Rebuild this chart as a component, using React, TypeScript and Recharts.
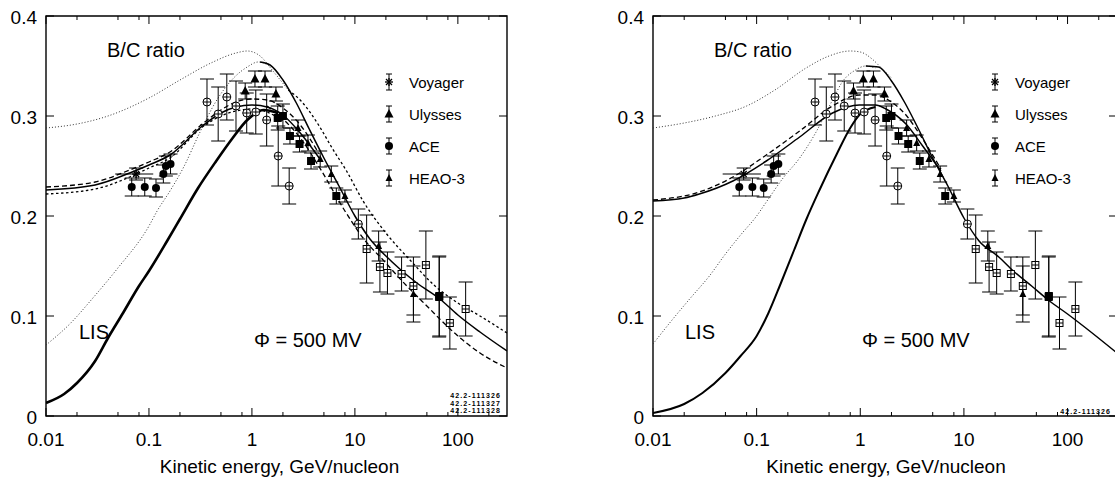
import React from "react";
import { ComposedChart, Line, Scatter, XAxis, YAxis, ErrorBar, ReferenceArea } from "recharts";

// B/C ratio vs kinetic energy, two panels, log x axis

const FONT = '"Liberation Sans", Arial, Helvetica, sans-serif';
const H = 479;
const TOP = 16;
const BOTTOM = 416;
const AXIS_W = 40;
const AXIS_H = 40;

const xMajor = [0.01, 0.1, 1, 10, 100];
const xMinor = [0.02, 0.05, 0.08, 0.2, 0.5, 0.8, 2, 5, 8, 20, 50, 80, 200];
const xTicks = [...xMajor, ...xMinor].sort((a, b) => a - b);
const yTicks = [0, 0.1, 0.2, 0.3, 0.4];
const xTitle = "Kinetic energy, GeV/nucleon";

// measurements: [E (GeV/n), B/C, error]
const voyager = [[0.075, 0.242, 0.006]];
const voyagerXErr = [[0.028, 0.035]];
const ulysses = [[0.86, 0.325, 0.008], [1.07, 0.337, 0.008], [1.34, 0.337, 0.008], [1.71, 0.322, 0.007]];
const ace = [[0.068, 0.229, 0.009], [0.091, 0.229, 0.009], [0.117, 0.228, 0.009], [0.138, 0.242, 0.009], [0.146, 0.25, 0.01], [0.162, 0.252, 0.01]];
const heao = [[2.8, 0.288, 0.008], [3.5, 0.273, 0.008], [4.6, 0.257, 0.008], [5.9, 0.242, 0.008], [8, 0.22, 0.006], [17, 0.17, 0.015], [37, 0.122, 0.028]];
const filledSq = [[1.78, 0.298, 0.012], [2.0, 0.3, 0.012], [2.34, 0.28, 0.008], [2.9, 0.272, 0.008], [3.75, 0.255, 0.008], [6.6, 0.22, 0.008], [66, 0.12, 0.04]];
const openCirc = [[0.366, 0.314, 0.023], [0.47, 0.302, 0.027], [0.57, 0.319, 0.023], [0.7, 0.31, 0.025], [0.89, 0.303, 0.02], [1.09, 0.304, 0.022], [1.39, 0.296, 0.026], [1.8, 0.26, 0.03], [2.3, 0.23, 0.018], [10.8, 0.192, 0.015]];
const openSq = [[13, 0.167, 0.034], [17.5, 0.149, 0.025], [20.7, 0.143, 0.021], [28.4, 0.142, 0.017], [37, 0.13, 0.029], [48.9, 0.151, 0.034], [65.8, 0.119, 0.04], [83.6, 0.093, 0.026], [119, 0.107, 0.027]];

// model curves, left panel
const lisUpperL = [[0.01, 0.288], [0.02, 0.292], [0.04, 0.3], [0.1, 0.318], [0.2, 0.336], [0.4, 0.353], [0.7, 0.363], [0.9, 0.365], [1.2, 0.36], [1.6, 0.345], [2.25, 0.326]];
const lisLowerL = [[0.01, 0.071], [0.0174, 0.093], [0.028, 0.117], [0.049, 0.147], [0.1, 0.19], [0.12, 0.205], [0.16, 0.225], [0.22, 0.25], [0.31, 0.283], [0.45, 0.315], [0.65, 0.337], [0.9, 0.349], [1.15, 0.354], [1.5, 0.35]];
const thickL = [[0.01, 0.013], [0.015, 0.022], [0.02, 0.033], [0.03, 0.055], [0.04, 0.078], [0.056, 0.103], [0.08, 0.13], [0.1, 0.145], [0.15, 0.175], [0.2, 0.197], [0.3, 0.228], [0.45, 0.255], [0.65, 0.278], [0.9, 0.296], [1.3, 0.306], [1.8, 0.303]];
const modSolidL = [[0.01, 0.226], [0.03, 0.231], [0.065, 0.243], [0.1, 0.251], [0.16, 0.261], [0.33, 0.29], [0.5, 0.303], [0.7, 0.309], [1, 0.311], [1.4, 0.309], [2, 0.301], [3, 0.282], [4.5, 0.258]];
const modDashL = [[0.01, 0.229], [0.03, 0.234], [0.065, 0.246], [0.1, 0.254], [0.16, 0.264], [0.33, 0.292], [0.5, 0.306], [0.7, 0.314], [1, 0.317], [1.4, 0.316], [2, 0.308], [3, 0.29], [4.5, 0.262]];
const modDotL = [[0.01, 0.222], [0.03, 0.227], [0.065, 0.239], [0.1, 0.248], [0.16, 0.258], [0.33, 0.289], [0.5, 0.3], [0.7, 0.305], [1, 0.307], [1.4, 0.304], [2, 0.295]];
const heSolidL = [[1.2, 0.354], [1.5, 0.351], [2, 0.336], [2.7, 0.313], [3.6, 0.287], [5, 0.258], [7, 0.23], [10, 0.2], [14, 0.177], [20, 0.16], [28, 0.146], [40, 0.133], [67, 0.117], [100, 0.101], [164, 0.084], [300, 0.065]];
const heUpperL = [[2.25, 0.326], [3, 0.315], [4.5, 0.29], [6, 0.268], [8.3, 0.245], [12, 0.215], [20, 0.183], [35, 0.155], [60, 0.13], [100, 0.113], [164, 0.1], [300, 0.083]];
const heLowerL = [[1.4, 0.31], [2, 0.297], [3, 0.277], [4.75, 0.245], [8, 0.205], [12, 0.178], [20, 0.153], [27, 0.138], [50, 0.11], [100, 0.08], [164, 0.063], [300, 0.048]];

// model curves, right panel
const lisUpperR = [[0.01, 0.288], [0.02, 0.293], [0.04, 0.3], [0.08, 0.31], [0.15, 0.326], [0.3, 0.348], [0.5, 0.36], [0.8, 0.365], [1, 0.364], [1.3, 0.357], [1.6, 0.348], [2, 0.338]];
const lisLowerR = [[0.01, 0.072], [0.015, 0.095], [0.023, 0.118], [0.035, 0.14], [0.05, 0.162], [0.07, 0.181], [0.1, 0.2], [0.124, 0.214], [0.18, 0.238], [0.26, 0.258], [0.37, 0.283], [0.54, 0.316], [0.67, 0.334], [0.9, 0.346], [1.13, 0.35], [1.4, 0.348]];
const thickR = [[0.01, 0.003], [0.02, 0.012], [0.03, 0.023], [0.05, 0.043], [0.07, 0.06], [0.1, 0.08], [0.13, 0.103], [0.17, 0.132], [0.23, 0.166], [0.3, 0.196], [0.4, 0.225], [0.6, 0.263], [0.8, 0.288], [1, 0.302], [1.4, 0.309]];
const modSolidR = [[0.01, 0.215], [0.02, 0.218], [0.028, 0.222], [0.059, 0.235], [0.124, 0.255], [0.26, 0.279], [0.54, 0.303], [0.98, 0.311], [1.4, 0.311], [1.77, 0.307], [2.76, 0.292], [4, 0.27], [6, 0.245]];
const modDashR = [[0.01, 0.216], [0.028, 0.224], [0.059, 0.239], [0.124, 0.261], [0.26, 0.285], [0.54, 0.31], [0.98, 0.321], [1.4, 0.321], [2, 0.314], [2.76, 0.301], [4, 0.277], [6, 0.247]];
const heSolidR = [[1.13, 0.35], [1.5, 0.349], [2, 0.335], [2.7, 0.313], [3.6, 0.288], [5, 0.258], [7, 0.23], [10, 0.198], [14, 0.175], [21.7, 0.159], [30, 0.145], [45, 0.13], [67, 0.115], [100, 0.102], [150, 0.088], [300, 0.063]];

const legendNames = ["Voyager", "Ulysses", "ACE", "HEAO-3"];
const legendKinds = ["voyager", "ulysses", "ace", "heao"];
const idsLeft = ["42.2-111326", "42.2-111327", "42.2-111328"];
const idsRight = ["42.2-111326"];

const pts = (a: number[][]) => a.map(([x, y, err]) => ({ x, y, err }));
const line = (a: number[][]) => a.map(([x, y]) => ({ x, y }));

const LIS = { width: 1, dash: "1 2", color: "#333" };
const THICK = { width: 2.6, dash: undefined, color: "#000" };
const SOLID = { width: 1.5, dash: undefined, color: "#000" };
const DASH = { width: 1.3, dash: "5 3", color: "#000" };
const DOT = { width: 1.3, dash: "2.5 2.5", color: "#000" };

const curvesL = [
  { d: lisUpperL, s: LIS }, { d: lisLowerL, s: LIS }, { d: thickL, s: THICK },
  { d: modSolidL, s: SOLID }, { d: modDashL, s: DASH }, { d: modDotL, s: DOT },
  { d: heSolidL, s: SOLID }, { d: heUpperL, s: DOT }, { d: heLowerL, s: DASH },
];
const curvesR = [
  { d: lisUpperR, s: LIS }, { d: lisLowerR, s: LIS }, { d: thickR, s: { ...THICK, width: 2 } },
  { d: modSolidR, s: SOLID }, { d: modDashR, s: DASH }, { d: heSolidR, s: SOLID },
];

function Sym({ kind, cx, cy }: { kind: string; cx: number; cy: number }) {
  const k = "#000";
  switch (kind) {
    case "voyager":
      return (
        <g stroke={k} strokeWidth={1.3}>
          <line x1={cx - 4} y1={cy} x2={cx + 4} y2={cy} />
          <line x1={cx} y1={cy - 4} x2={cx} y2={cy + 4} />
          <line x1={cx - 3} y1={cy - 3} x2={cx + 3} y2={cy + 3} />
          <line x1={cx - 3} y1={cy + 3} x2={cx + 3} y2={cy - 3} />
        </g>
      );
    case "ulysses":
      return <polygon points={`${cx},${cy - 5} ${cx - 4.5},${cy + 3.5} ${cx + 4.5},${cy + 3.5}`} fill={k} />;
    case "heao":
      return <polygon points={`${cx},${cy - 4} ${cx - 3.5},${cy + 3} ${cx + 3.5},${cy + 3}`} fill={k} />;
    case "ace":
      return <circle cx={cx} cy={cy} r={4} fill={k} />;
    case "fsq":
      return <rect x={cx - 4} y={cy - 4} width={8} height={8} fill={k} />;
    case "ocirc":
      return (
        <g stroke={k} strokeWidth={1}>
          <circle cx={cx} cy={cy} r={4} fill="#fff" />
          <line x1={cx - 4} y1={cy} x2={cx + 4} y2={cy} />
          <line x1={cx} y1={cy - 4} x2={cx} y2={cy + 4} />
        </g>
      );
    default:
      return (
        <g stroke={k} strokeWidth={1}>
          <rect x={cx - 3.5} y={cy - 3.5} width={7} height={7} fill="#fff" />
          <line x1={cx - 3.5} y1={cy} x2={cx + 3.5} y2={cy} />
          <line x1={cx} y1={cy - 3.5} x2={cx} y2={cy + 3.5} />
        </g>
      );
  }
}

const series = [
  { d: openCirc, kind: "ocirc" },
  { d: openSq, kind: "osq" },
  { d: ace, kind: "ace" },
  { d: ulysses, kind: "ulysses" },
  { d: heao, kind: "heao" },
  { d: filledSq, kind: "fsq" },
];

function Text({ x, y, size, children, anchor = "start", weight = 400, spacing = 0 }: any) {
  return (
    <div
      style={{
        position: "absolute", left: x, top: y, fontSize: size, lineHeight: 1, fontWeight: weight,
        fontFamily: FONT, whiteSpace: "nowrap", color: "#000", letterSpacing: spacing,
        transform: `translate(${anchor === "middle" ? "-50%" : anchor === "end" ? "-100%" : "0"}, -50%)`,
      }}
    >
      {children}
    </div>
  );
}

function Panel({ left, width, plotLeft, plotRight, curves, ids, legendX, bcX, lisX, phiX }: any) {
  const xTick = (p: any) => {
    const v = p.payload.value;
    const major = xMajor.includes(v);
    const len = major ? 8 : 4;
    return (
      <g>
        <line x1={p.x} x2={p.x} y1={BOTTOM} y2={BOTTOM - len} stroke="#000" />
        <line x1={p.x} x2={p.x} y1={TOP} y2={TOP + len} stroke="#000" />
        {major && (
          <text x={p.x} y={439} textAnchor="middle" dominantBaseline="central" fontSize={19} fontFamily={FONT} fill="#000">
            {String(v)}
          </text>
        )}
      </g>
    );
  };
  const yTick = (p: any) => {
    const v = p.payload.value;
    return (
      <g>
        <line x1={plotLeft} x2={plotLeft + 8} y1={p.y} y2={p.y} stroke="#000" />
        <line x1={plotRight - 8} x2={plotRight} y1={p.y} y2={p.y} stroke="#000" />
        <text x={plotLeft - 9} y={p.y + 1} textAnchor="end" dominantBaseline="central" fontSize={19} fontFamily={FONT} fill="#000">
          {v === 0 ? "0" : v.toFixed(1)}
        </text>
      </g>
    );
  };
  return (
    <div style={{ position: "absolute", left, top: 0, width, height: H }}>
      <ComposedChart width={width} height={H}
        margin={{ top: TOP, left: plotLeft - AXIS_W, right: width - plotRight, bottom: H - BOTTOM - AXIS_H }}>
        <XAxis dataKey="x" type="number" scale="log" domain={[0.01, 300]} allowDataOverflow ticks={xTicks}
          interval={0} height={AXIS_H} tickSize={0} axisLine={false} tickLine={false} tick={xTick} />
        <YAxis type="number" domain={[0, 0.4]} allowDataOverflow ticks={yTicks} interval={0} width={AXIS_W}
          tickSize={0} axisLine={false} tickLine={false} tick={yTick} />
        <ReferenceArea x1={0.01} x2={300} y1={0} y2={0.4} fill="none" stroke="#000" strokeWidth={1.4} ifOverflow="visible" />
        {curves.map((c: any, i: number) => (
          <Line key={"c" + i} data={line(c.d)} dataKey="y" type="monotone" stroke={c.s.color} strokeWidth={c.s.width}
            strokeDasharray={c.s.dash} dot={false} activeDot={false} isAnimationActive={false} />
        ))}
        {series.map((s) => (
          <Scatter key={s.kind} data={pts(s.d)} dataKey="y" isAnimationActive={false}
            shape={(p: any) => <Sym kind={s.kind} cx={p.cx} cy={p.cy} />}>
            <ErrorBar dataKey="err" direction="y" width={7} stroke="#000" strokeWidth={1} />
          </Scatter>
        ))}
        <Scatter data={voyager.map(([x, y, err], i) => ({ x, y, err, xerr: voyagerXErr[i] }))} dataKey="y"
          isAnimationActive={false} shape={(p: any) => <Sym kind="voyager" cx={p.cx} cy={p.cy} />}>
          <ErrorBar dataKey="err" direction="y" width={7} stroke="#000" strokeWidth={1} />
          <ErrorBar dataKey="xerr" direction="x" width={0} stroke="#000" strokeWidth={1.2} />
        </Scatter>
      </ComposedChart>
      {legendNames.map((n, i) => (
        <React.Fragment key={n}>
          <svg style={{ position: "absolute", left: legendX - 8 - left, top: 82 + i * 32 - 10 }} width={16} height={20}>
            <line x1={8} x2={8} y1={2} y2={18} stroke="#000" />
            <line x1={5} x2={11} y1={2} y2={2} stroke="#000" />
            <line x1={5} x2={11} y1={18} y2={18} stroke="#000" />
            <Sym kind={legendKinds[i]} cx={8} cy={10} />
          </svg>
          <Text x={legendX + 20 - left} y={82 + i * 32} size={15}>{n}</Text>
        </React.Fragment>
      ))}
      <Text x={bcX - left} y={50} size={20}>B/C ratio</Text>
      <Text x={lisX - left} y={332} size={20}>LIS</Text>
      <Text x={phiX - left} y={340} size={20}>Φ = 500 MV</Text>
      <Text x={(plotLeft + Math.min(plotRight, 1115 - left - 2)) / 2 + 3} y={466} size={19} anchor="middle">{xTitle}</Text>
      {ids.map((t: string, i: number) => (
        <Text key={i} x={plotRight - 6} y={ids.length > 1 ? 395 + i * 7.5 : 411} size={7} anchor="end" weight={700} spacing={1.1}>{t}</Text>
      ))}
    </div>
  );
}

export default function App() {
  return (
    <div style={{ position: "absolute", left: 0, top: 0, width: 1115, height: H, overflow: "hidden", background: "#fff" }}>
      <Panel left={0} width={557} plotLeft={46} plotRight={507} curves={curvesL} ids={idsLeft} legendX={389} bcX={107} lisX={79} phiX={254} />
      <Panel left={557} width={560} plotLeft={96} plotRight={560} curves={curvesR} ids={idsRight} legendX={995} bcX={714} lisX={685} phiX={862} />
    </div>
  );
}
